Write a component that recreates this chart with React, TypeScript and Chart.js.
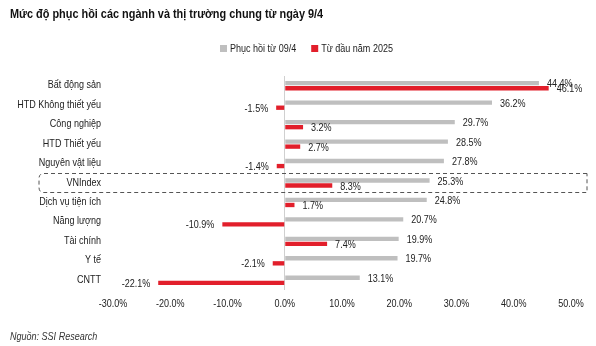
import React, { useEffect, useRef } from "react";
import { Chart, registerables } from "chart.js";

Chart.register(...registerables);

const TITLE = "Mức độ phục hồi các ngành và thị trường chung từ ngày 9/4";
const SOURCE = "Nguồn: SSI Research";
const categories = [
  "Bất động sản",
  "HTD Không thiết yếu",
  "Công nghiệp",
  "HTD Thiết yếu",
  "Nguyên vật liệu",
  "VNIndex",
  "Dịch vụ tiện ích",
  "Năng lượng",
  "Tài chính",
  "Y tế",
  "CNTT",
];
const seriesNames = ["Phục hồi từ 09/4", "Từ đầu năm 2025"];
const recovery = [44.4, 36.2, 29.7, 28.5, 27.8, 25.3, 24.8, 20.7, 19.9, 19.7, 13.1];
const ytd = [46.1, -1.5, 3.2, 2.7, -1.4, 8.3, 1.7, -10.9, 7.4, -2.1, -22.1];
const xMin = -30;
const xMax = 50;
const xStep = 10;
const highlight = "VNIndex";

const GRAY = "#BFBFBF";
const RED = "#E21F2B";
const TEXT = "#222222";
const FONT = "'Liberation Sans', Arial, sans-serif";
const NARROW = 0.82;

function narrowText(
  ctx: CanvasRenderingContext2D,
  text: string,
  x: number,
  y: number,
  align: CanvasTextAlign,
  font: string,
  color: string
) {
  ctx.save();
  ctx.font = font;
  ctx.fillStyle = color;
  ctx.textAlign = align;
  ctx.textBaseline = "middle";
  ctx.translate(x, y);
  ctx.scale(NARROW, 1);
  ctx.fillText(text, 0, 0);
  ctx.restore();
}

function narrowWidth(ctx: CanvasRenderingContext2D, text: string, font: string) {
  ctx.save();
  ctx.font = font;
  const w = ctx.measureText(text).width * NARROW;
  ctx.restore();
  return w;
}

const fmtPct = (v: number) => v.toFixed(1) + "%";

export default function App() {
  const ref = useRef<HTMLCanvasElement | null>(null);

  useEffect(() => {
    document.body.style.margin = "0";
    const canvas = ref.current;
    if (!canvas) return;

    const overlay = {
      id: "overlay",
      afterDatasetsDraw(chart: any) {
        const ctx = chart.ctx as CanvasRenderingContext2D;
        const f11 = `11px ${FONT}`;
        // axis tick labels (condensed, like Arial Narrow)
        const yScale = chart.scales.y;
        yScale.ticks.forEach((t: any, i: number) => {
          const label = chart.data.labels[t.value] as string;
          narrowText(ctx, label, yScale.right - 12, yScale.getPixelForTick(i) - 0.5, "right", f11, TEXT);
        });
        const xScale = chart.scales.x;
        xScale.ticks.forEach((t: any, i: number) => {
          narrowText(ctx, fmtPct(t.value), xScale.getPixelForTick(i), xScale.top + 14, "center", f11, TEXT);
        });
        // value labels
        chart.data.datasets.forEach((ds: any, di: number) => {
          const meta = chart.getDatasetMeta(di);
          meta.data.forEach((el: any, i: number) => {
            const v = ds.data[i] as number;
            const txt = fmtPct(v);
            if (v >= 0) narrowText(ctx, txt, el.x + 8, el.y + 1, "left", f11, TEXT);
            else narrowText(ctx, txt, el.x - 8, el.y + 1, "right", f11, TEXT);
          });
        });
        ctx.save();
        // dashed highlight box
        const idx = categories.indexOf(highlight);
        if (idx >= 0) {
          const cy = yScale.getPixelForValue(idx);
          const area = chart.chartArea;
          const left = area.left - 74;
          const right = area.right + 16;
          const top = cy - 9.5;
          const bottom = cy + 9.5;
          const r = 5;
          ctx.strokeStyle = "#555555";
          ctx.lineWidth = 1;
          ctx.setLineDash([4, 3]);
          ctx.beginPath();
          ctx.moveTo(right, top);
          ctx.lineTo(left + r, top);
          ctx.quadraticCurveTo(left, top, left, top + r);
          ctx.lineTo(left, bottom - r);
          ctx.quadraticCurveTo(left, bottom, left + r, bottom);
          ctx.lineTo(right, bottom);
          ctx.lineTo(right, top);
          ctx.stroke();
          ctx.setLineDash([]);
        }
        // legend
        const colors = [GRAY, RED];
        let lx = 220;
        seriesNames.forEach((name, i) => {
          ctx.fillStyle = colors[i];
          ctx.fillRect(lx, 45, 7, 7);
          narrowText(ctx, name, lx + 10, 49, "left", f11, TEXT);
          lx += 10 + narrowWidth(ctx, name, f11) + 15;
        });
        ctx.restore();
        // title
        narrowText(ctx, TITLE, 10, 14, "left", `bold 13.3px ${FONT}`, "#111111");
        // source
        narrowText(ctx, SOURCE, 10, 337, "left", `italic 11px ${FONT}`, "#333333");
      },
    };

    const chart = new Chart(canvas, {
      type: "bar",
      data: {
        labels: categories,
        datasets: [
          {
            label: seriesNames[0],
            data: recovery,
            backgroundColor: GRAY,
            barPercentage: 0.86,
            categoryPercentage: 0.52,
          },
          {
            label: seriesNames[1],
            data: ytd,
            backgroundColor: RED,
            barPercentage: 0.86,
            categoryPercentage: 0.52,
          },
        ],
      },
      options: {
        indexAxis: "y",
        responsive: false,
        animation: false,
        devicePixelRatio: 1,
        layout: { padding: { top: 76, right: 25, bottom: 26, left: 0 } },
        plugins: {
          legend: { display: false },
          title: { display: false },
          tooltip: { enabled: false },
        },
        scales: {
          x: {
            min: xMin,
            max: xMax,
            afterFit: (s: any) => {
              s.height = 30;
            },
            ticks: {
              stepSize: xStep,
              display: false,
              callback: (v: any) => fmtPct(Number(v)),
            },
            grid: {
              drawTicks: false,
              color: (c: any) => (c.tick && c.tick.value === 0 ? "#D0D0D0" : "rgba(0,0,0,0)"),
            },
            border: { display: false },
          },
          y: {
            afterFit: (s: any) => {
              s.width = 113;
            },
            ticks: { display: false, autoSkip: false },
            grid: { display: false, drawTicks: false },
            border: { display: false },
          },
        },
      },
      plugins: [overlay],
    });
    return () => chart.destroy();
  }, []);

  return (
    <div style={{ width: 596, height: 346, background: "#fff" }}>
      <canvas ref={ref} width={596} height={346} />
    </div>
  );
}
